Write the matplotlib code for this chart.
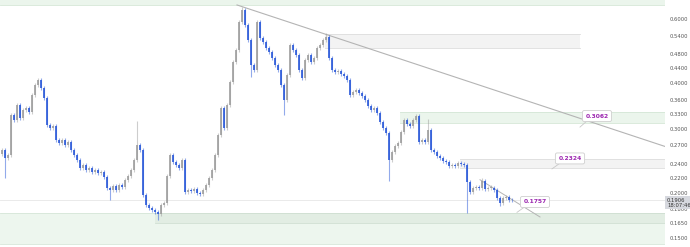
import matplotlib
matplotlib.use("Agg")
import matplotlib.pyplot as plt
import matplotlib.transforms as mtransforms
from matplotlib.ticker import NullLocator, FixedLocator, FixedFormatter

# ---------------- data ----------------
closes = [
    0.262, 0.249, 0.254, 0.327, 0.317, 0.349, 0.321, 0.338, 0.342, 0.333,
    0.371, 0.396, 0.408, 0.388, 0.364, 0.307, 0.301, 0.305, 0.279, 0.274,
    0.279, 0.270, 0.276, 0.262, 0.254, 0.246, 0.234, 0.238, 0.231, 0.234,
    0.228, 0.231, 0.227, 0.228, 0.221, 0.206, 0.203, 0.209, 0.203, 0.210,
    0.207, 0.217, 0.222, 0.231, 0.246, 0.270, 0.262, 0.197, 0.185, 0.181,
    0.179, 0.177, 0.175, 0.185, 0.187, 0.222, 0.254, 0.243, 0.238, 0.234,
    0.246, 0.201, 0.203, 0.202, 0.205, 0.200, 0.198, 0.203, 0.210, 0.219,
    0.231, 0.254, 0.288, 0.342, 0.301, 0.349, 0.403, 0.458, 0.494, 0.590,
    0.636, 0.579, 0.526, 0.449, 0.435, 0.590, 0.533, 0.520, 0.500, 0.488,
    0.470, 0.449, 0.435, 0.396, 0.360, 0.422, 0.510, 0.494, 0.479, 0.435,
    0.414, 0.464, 0.479, 0.458, 0.470, 0.500, 0.510, 0.526, 0.536, 0.470,
    0.435, 0.430, 0.432, 0.424, 0.419, 0.408, 0.371, 0.378, 0.383, 0.376,
    0.369, 0.360, 0.346, 0.338, 0.342, 0.331, 0.313, 0.301, 0.292, 0.246,
    0.259, 0.269, 0.274, 0.294, 0.317, 0.309, 0.305, 0.317, 0.325, 0.276,
    0.279, 0.276, 0.298, 0.262, 0.259, 0.252, 0.249, 0.244, 0.243, 0.237,
    0.238, 0.237, 0.241, 0.240, 0.238, 0.214, 0.201, 0.206, 0.207, 0.206,
    0.215, 0.205, 0.206, 0.206, 0.203, 0.193, 0.187, 0.193, 0.195, 0.191,
    0.1906,
]
first_open = 0.255
# notable wick extremes: index -> price
wick_high = {45: 0.315, 80: 0.648, 108: 0.550, 142: 0.319, 160: 0.219}
wick_low = {1: 0.220, 36: 0.191, 52: 0.168, 83: 0.416, 94: 0.327,
            129: 0.215, 155: 0.1757, 166: 0.184}

tick_values = [0.6, 0.54, 0.48, 0.44, 0.40, 0.36, 0.33, 0.30, 0.27,
               0.24, 0.22, 0.20, 0.18, 0.165, 0.15]
tick_labels = ["0.6000", "0.5400", "0.4800", "0.4400", "0.4000", "0.3600",
               "0.3300", "0.3000", "0.2700", "0.2400", "0.2200", "0.2000",
               "0.1800", "0.1650", "0.1500"]
level_labels = ["0.3062", "0.2324", "0.1757"]
last_price_label = "0.1906\n18:07:46"

# ---------------- figure ----------------
W, H = 690, 247
fig = plt.figure(figsize=(W / 100, H / 100), dpi=100)
fig.patch.set_facecolor("white")
ax = fig.add_axes([0, 0, 665 / W, 1])
ax.set_facecolor("white")
ax.set_yscale("log")
ax.set_xlim(-0.5, 665 / 3 - 0.5)
ax.set_ylim(0.1417, 0.678)
for s in ax.spines.values():
    s.set_visible(False)

XR = 665 / 3 - 0.5
# zones
def band(x0, x1, y0, y1, fc, ec):
    ax.fill_between([x0, x1], y0, y1, color=fc, lw=0, zorder=0)
    ax.plot([x0, x1], [y0, y0], color=ec, lw=0.6, zorder=0.5)
    ax.plot([x0, x1], [y1, y1], color=ec, lw=0.6, zorder=0.5)

band(-0.5, XR, 0.657, 0.70, "#ebf5ec", "#d4e6d6")
band(107.8, 192.8, 0.500, 0.547, "#f3f3f3", "#dddddd")
band(132.8, XR, 0.311, 0.333, "#ebf5ec", "#d4e6d6")
band(152.8, XR, 0.234, 0.2476, "#f3f3f3", "#dddddd")
band(-0.5, XR, 0.1445, 0.1757, "#edf6ee", "#d6e6d8")
band(51.2, XR, 0.1645, 0.1757, "#e2ede3", "#d0dfd2")

# last price line
ax.axhline(closes[-1], color="#e6e6e6", lw=0.6, zorder=0.6)

# trendlines
ax.plot([78.5, XR], [0.657, 0.268], color="#b4b4b4", lw=0.8, zorder=1)
ax.plot([159.5, 179.5], [0.217, 0.1714], color="#b4b4b4", lw=0.7, zorder=1)

# candles
up_c, dn_c = "#9c9c9c", "#2756d8"
opens = [first_open] + closes[:-1]
for i, (o, c) in enumerate(zip(opens, closes)):
    col = up_c if c >= o else dn_c
    lo, hi = min(o, c), max(o, c)
    if hi / lo < 1.004:
        hi = lo * 1.004
    wh = max(hi * 1.012, wick_high.get(i, 0))
    wl = min(lo * 0.988, wick_low.get(i, 10))
    ax.vlines(i, wl, wh, color=col, lw=0.8, alpha=0.5, zorder=2)
    ax.vlines(i, lo, hi, color=col, lw=1.2, zorder=3)

# level labels: (text x, text y, pointer x, pointer y)
lbl_pos = [((597 / 3 - 0.5), 0.3250, (580 / 3 - 0.5), 0.303),
           ((570 / 3 - 0.5), 0.2484, (552 / 3 - 0.5), 0.2325),
           ((535 / 3 - 0.5), 0.1885, (517 / 3 - 0.5), 0.1765)]
for (tx, ty, px, py), t in zip(lbl_pos, level_labels):
    ax.plot([px, tx - 3], [py, ty * 0.975], color="#c8c8c8", lw=0.6, zorder=4)
    ax.text(tx, ty, t, fontsize=4.3, color="#9c27b0", ha="center", va="center",
            fontweight="bold", zorder=5,
            bbox=dict(boxstyle="round,pad=0.5,rounding_size=0.3", fc="white",
                      ec="#cfcfcf", lw=0.6))

# y axis on right
ax.yaxis.tick_right()
ax.yaxis.set_minor_locator(NullLocator())
ax.yaxis.set_major_locator(FixedLocator(tick_values))
ax.yaxis.set_major_formatter(FixedFormatter(tick_labels))
ax.tick_params(axis="y", length=0, pad=3, labelsize=3.8, labelcolor="#555555")
ax.set_xticks([])

trans = mtransforms.blended_transform_factory(ax.transAxes, ax.transData)
ax.text(1.003, closes[-1] * 0.985, last_price_label, transform=trans, fontsize=3.8,
        color="#333333", ha="left", va="center", linespacing=0.95, zorder=6,
        bbox=dict(boxstyle="square,pad=0.35", fc="#d6d8de", ec="none"),
        clip_on=False)

fig.savefig("out.png", dpi=100, facecolor="white")
